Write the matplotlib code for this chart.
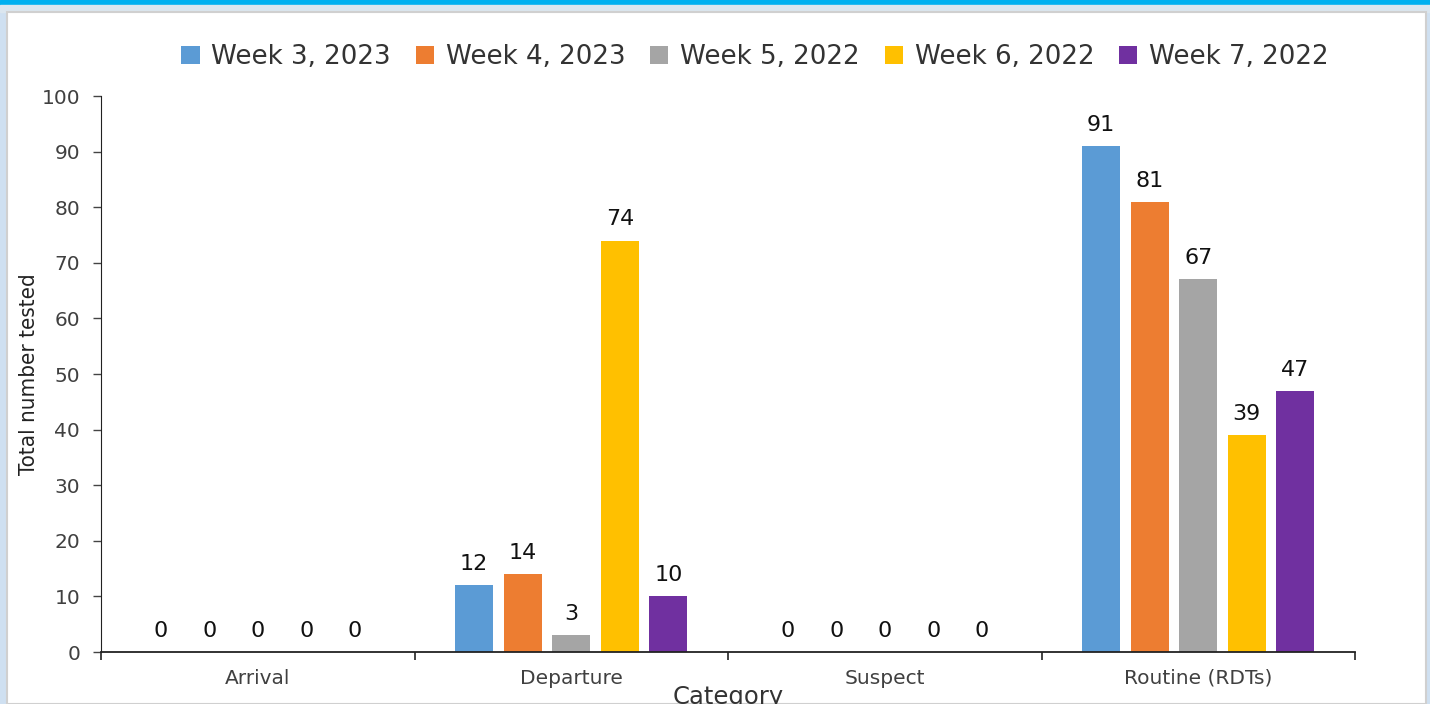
import numpy as np
import matplotlib.pyplot as plt
from matplotlib.patches import Rectangle

# data
categories = ["Arrival", "Departure", "Suspect", "Routine (RDTs)"]
series_names = ["Week 3, 2023", "Week 4, 2023", "Week 5, 2022", "Week 6, 2022", "Week 7, 2022"]
week3 = [0, 12, 0, 91]
week4 = [0, 14, 0, 81]
week5 = [0, 3, 0, 67]
week6 = [0, 74, 0, 39]
week7 = [0, 10, 0, 47]
series_values = [week3, week4, week5, week6, week7]
colors = ["#5b9bd5", "#ed7d31", "#a5a5a5", "#ffc000", "#7030a0"]

W, H = 1430, 704
fig = plt.figure(figsize=(W / 100, H / 100), dpi=100)
fig.patch.set_facecolor("#cfe0f1")

# page frame: top blue band, light strip, white panel
fig.patches.append(Rectangle((0, 1 - 5 / H), 1, 5 / H, transform=fig.transFigure,
                             color="#00b0f0", zorder=-2))
fig.patches.append(Rectangle((0, 1 - 12 / H), 1, 7 / H, transform=fig.transFigure,
                             color="#dbe6ef", zorder=-2))
fig.patches.append(Rectangle((7 / W, 0), 1419 / W, 1 - 12 / H, transform=fig.transFigure,
                             facecolor="white", edgecolor="#d0d0d0", lw=1.5, zorder=-1))

ax = fig.add_axes([101 / W, 1 - 652 / H, 1254 / W, 556 / H])
ax.set_facecolor("none")
ax.set_zorder(5)

n = len(series_names)
step = 0.155
width = 0.121
x = np.arange(len(categories)) + 0.5

for i, (name, vals, c) in enumerate(zip(series_names, series_values, colors)):
    pos = x + (i - (n - 1) / 2) * step
    bars = ax.bar(pos, vals, width=width, color=c, label=name, zorder=2)
    for b, v in zip(bars, vals):
        ax.annotate(str(v), (b.get_x() + b.get_width() / 2, v), xytext=(0, 8),
                    textcoords="offset points", ha="center", va="bottom",
                    fontsize=16, color="#111111")

ax.set_xlim(0, len(categories))
ax.set_ylim(0, 100)
ax.set_yticks(np.arange(0, 101, 10))
ax.set_xticks(np.arange(0, len(categories) + 1))
ax.set_xticklabels([])
ax.set_xticks(x, minor=True)
ax.set_xticklabels(categories, minor=True)
ax.tick_params(axis="x", which="major", length=6, width=1.2, color="#222222")
ax.tick_params(axis="x", which="minor", length=0, pad=12, labelsize=14.5, labelcolor="#404040")
ax.tick_params(axis="y", length=6, width=1, color="#444444", pad=9,
               labelsize=14.5, labelcolor="#404040")

for s in ["top", "right"]:
    ax.spines[s].set_visible(False)
ax.spines["left"].set_color("#222222")
ax.spines["bottom"].set_color("#222222")
ax.spines["bottom"].set_linewidth(1.3)

fig.text(29 / W, 1 - 374 / H, "Total number tested", rotation=90, ha="center", va="center",
         fontsize=16, color="#222222", family="DejaVu Sans", fontstretch="condensed")
fig.text(728 / W, 1 - 685 / H, "Category", ha="center", va="top", fontsize=17.5, color="#333333")

fig.legend(loc="center", bbox_to_anchor=(755 / W, 1 - 57 / H), ncol=5, frameon=False,
           fontsize=18.8, handlelength=0.7, handleheight=0.7, handletextpad=0.45,
           columnspacing=0.95, labelcolor="#333333")

fig.savefig("out.png", dpi=100, facecolor=fig.get_facecolor())
